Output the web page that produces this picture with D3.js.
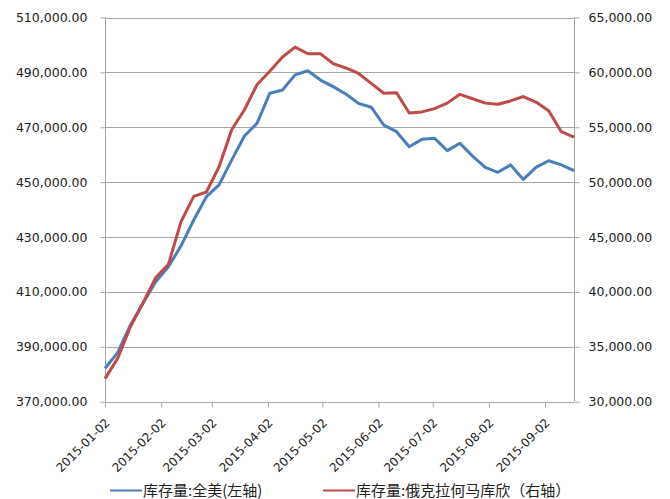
<!DOCTYPE html>
<html><head><meta charset="utf-8">
<script src="https://cdn.jsdelivr.net/npm/d3@7"></script>
<style>
html,body{margin:0;padding:0;background:#fff;}
svg{display:block;}
text{font-family:"DejaVu Sans",Verdana,sans-serif;fill:#222;}
.leg{font-family:"Noto Sans CJK SC",sans-serif;}
</style></head><body>
<svg id="c" width="670" height="499"></svg>
<script>
// weekly data starting 2015-01-02
const startDate = "2015-01-02";
const seriesNames = ["库存量:全美(左轴)", "库存量:俄克拉何马库欣（右轴）"];
const usTotal = [382.2,387.9,397.9,405.9,413.7,419.2,426.8,436.2,444.7,449.0,458.1,466.8,471.5,482.4,483.6,489.1,490.6,487.2,484.8,482.1,478.7,477.3,470.8,468.4,462.9,465.6,466.0,461.5,464.2,459.5,455.4,453.6,456.3,451.0,455.4,457.8,456.3,454.2].map(v=>v*1000);
const cushing = [32.1,33.95,36.8,39.0,41.3,42.5,46.4,48.7,49.1,51.4,54.8,56.6,58.9,60.1,61.4,62.3,61.7,61.7,60.8,60.4,59.9,59.0,58.1,58.15,56.3,56.4,56.7,57.2,58.0,57.6,57.2,57.1,57.4,57.8,57.3,56.5,54.6,54.1].map(v=>v*1000);
const leftTicks = [370000,390000,410000,430000,450000,470000,490000,510000];
const rightTicks = [30000,35000,40000,45000,50000,55000,60000,65000];
const xTickLabels = ["2015-01-02","2015-02-02","2015-03-02","2015-04-02","2015-05-02","2015-06-02","2015-07-02","2015-08-02","2015-09-02"];

const parse = d3.utcParse("%Y-%m-%d");
const t0 = parse(startDate);
const dates = usTotal.map((_,i)=>d3.utcDay.offset(t0, 7*i));

const L=105, R=574, T=17.5, B=401.7;
const svg = d3.select("#c");
const x = d3.scaleUtc().domain([dates[0], dates[dates.length-1]]).range([L,R]);
const yL = d3.scaleLinear().domain([370000,510000]).range([B,T]);
const yR = d3.scaleLinear().domain([30000,65000]).range([B,T]);
const fmt = d3.format(",.2f");
const grid = "#a6a6a6";

// gridlines
svg.append("g").selectAll("line").data(leftTicks).join("line")
  .attr("x1",L).attr("x2",R)
  .attr("y1",d=>Math.round(yL(d))+0.5).attr("y2",d=>Math.round(yL(d))+0.5)
  .attr("stroke",grid).attr("stroke-width",1);

// left axis
const gl = svg.append("g").attr("transform",`translate(${L+0.5},0)`)
  .call(d3.axisLeft(yL).tickValues(leftTicks).tickFormat(fmt).tickSize(5).tickPadding(13));
gl.select(".domain").attr("stroke",grid).attr("d",`M0,${T}V${B}`);
gl.selectAll(".tick line").attr("stroke",grid);
gl.selectAll(".tick text").style("font-size","12.5px").attr("fill","#222");

// right axis
const gr = svg.append("g").attr("transform",`translate(${R+0.5},0)`)
  .call(d3.axisRight(yR).tickValues(rightTicks).tickFormat(fmt).tickSize(5).tickPadding(9));
gr.select(".domain").attr("stroke",grid).attr("d",`M0,${T}V${B}`);
gr.selectAll(".tick line").attr("stroke",grid);
gr.selectAll(".tick text").style("font-size","12.5px").attr("fill","#222");

// bottom axis
const gb = svg.append("g").attr("transform",`translate(0,${Math.round(B)+0.5})`)
  .call(d3.axisBottom(x).tickValues(xTickLabels.map(parse)).tickFormat(d3.utcFormat("%Y-%m-%d")).tickSize(5));
gb.select(".domain").attr("stroke",grid).attr("d",`M${L},0H${R}`);
gb.selectAll(".tick line").attr("stroke",grid);
gb.selectAll(".tick text").style("font-size","12px").attr("fill","#222")
  .attr("text-anchor","end").attr("dy",null).attr("y",null)
  .attr("transform","translate(5,21) rotate(-45)");

// lines
const lineL = d3.line().x((d,i)=>x(dates[i])).y(d=>yL(d));
const lineR = d3.line().x((d,i)=>x(dates[i])).y(d=>yR(d));
svg.append("path").datum(usTotal).attr("d",lineL).attr("fill","none")
  .attr("stroke","#4a7ebb").attr("stroke-width",3).attr("stroke-linejoin","round");
svg.append("path").datum(cushing).attr("d",lineR).attr("fill","none")
  .attr("stroke","#be4b48").attr("stroke-width",3).attr("stroke-linejoin","round");

// legend
const legY = 490.5;
const leg = [{x:110, c:"#4a7ebb", t:seriesNames[0]},{x:323, c:"#be4b48", t:seriesNames[1]}];
leg.forEach(l=>{
  svg.append("line").attr("x1",l.x).attr("x2",l.x+32).attr("y1",legY).attr("y2",legY)
    .attr("stroke",l.c).attr("stroke-width",2);
  svg.append("text").attr("class","leg").attr("x",l.x+33).attr("y",legY).attr("dy","0.35em")
    .style("font-size","15px").text(l.t);
});
</script>
</body></html>
